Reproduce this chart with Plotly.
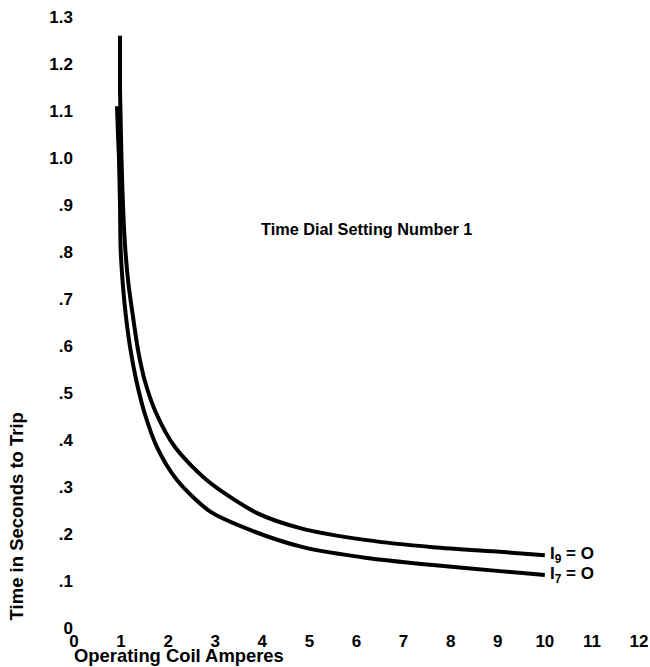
import plotly.graph_objects as go

# Data (Operating coil amperes vs time in seconds to trip)
i9_amps = [0.977, 0.977, 0.987, 1.008, 1.04, 1.083, 1.153, 1.253, 1.359, 1.507, 1.741, 2.144, 2.817, 3.879, 4.862, 6.221, 7.622, 9.045, 10.0]
i9_time = [1.26, 1.15, 1.10, 1.00, 0.90, 0.815, 0.735, 0.662, 0.592, 0.525, 0.458, 0.385, 0.315, 0.245, 0.211, 0.187, 0.172, 0.162, 0.155]

i7_amps = [0.913, 0.934, 0.955, 0.977, 0.991, 1.034, 1.104, 1.200, 1.327, 1.497, 1.762, 2.187, 2.887, 3.779, 4.862, 6.221, 7.622, 9.045, 10.0]
i7_time = [1.11, 1.05, 1.00, 0.90, 0.805, 0.735, 0.662, 0.592, 0.525, 0.458, 0.385, 0.315, 0.248, 0.207, 0.172, 0.149, 0.134, 0.121, 0.113]

x_ticks = list(range(0, 13))
x_ticklabels = [str(v) for v in x_ticks]
y_ticks = [0, 0.1, 0.2, 0.3, 0.4, 0.5, 0.6, 0.7, 0.8, 0.9, 1.0, 1.1, 1.2, 1.3]
y_ticklabels = ["0", ".1", ".2", ".3", ".4", ".5", ".6", ".7", ".8", ".9", "1.0", "1.1", "1.2", "1.3"]

FONT = "Liberation Sans"
BOLD = dict(family=FONT, color="black", weight="bold")

fig = go.Figure()
fig.add_trace(go.Scatter(x=i9_amps, y=i9_time, mode="lines", name="I9=O",
                         line=dict(color="black", width=4, shape="spline", smoothing=0.8)))
fig.add_trace(go.Scatter(x=i7_amps, y=i7_time, mode="lines", name="I7=O",
                         line=dict(color="black", width=4, shape="spline", smoothing=0.8)))

fig.add_annotation(x=i9_amps[-1], y=i9_time[-1], text="I<sub>9</sub> = O", showarrow=False,
                   xanchor="left", yanchor="middle", xshift=3,
                   font=dict(size=17, **BOLD))
fig.add_annotation(x=i7_amps[-1], y=i7_time[-1], text="I<sub>7</sub> = O", showarrow=False,
                   xanchor="left", yanchor="middle", xshift=3,
                   font=dict(size=17, **BOLD))

fig.add_annotation(x=6.22, y=0.85, text="Time Dial Setting Number 1", showarrow=False,
                   xanchor="center", yanchor="middle",
                   font=dict(size=16.3, **BOLD))

fig.add_annotation(xref="paper", yref="paper", x=-0.0035, y=-0.0458, text="Operating Coil Amperes",
                   showarrow=False, xanchor="left", yanchor="middle",
                   font=dict(size=18.4, **BOLD))
fig.add_annotation(xref="paper", yref="paper", x=-0.101, y=0.1825, text="Time in Seconds to Trip",
                   showarrow=False, textangle=-90, xanchor="center", yanchor="middle",
                   font=dict(size=18.5, **BOLD))

fig.update_layout(
    width=650, height=667,
    margin=dict(l=74, r=11, t=17, b=39),
    paper_bgcolor="white", plot_bgcolor="white",
    showlegend=False,
    font=dict(family=FONT, color="black"),
)
fig.update_xaxes(range=[0, 12], tickvals=x_ticks, ticktext=x_ticklabels,
                 showgrid=False, zeroline=False, showline=False, ticks="",
                 ticklabelstandoff=1, automargin=False,
                 tickfont=dict(size=17, **BOLD))
fig.update_yaxes(range=[0, 1.3], tickvals=y_ticks, ticktext=y_ticklabels,
                 showgrid=False, zeroline=False, showline=False, ticks="",
                 automargin=False,
                 tickfont=dict(size=17, **BOLD))

# remove the default page margin so the 650x667 figure fills the window exactly
fig.write_html("out.html", config={"displayModeBar": False},
               post_script="document.body.style.margin='0px';")
